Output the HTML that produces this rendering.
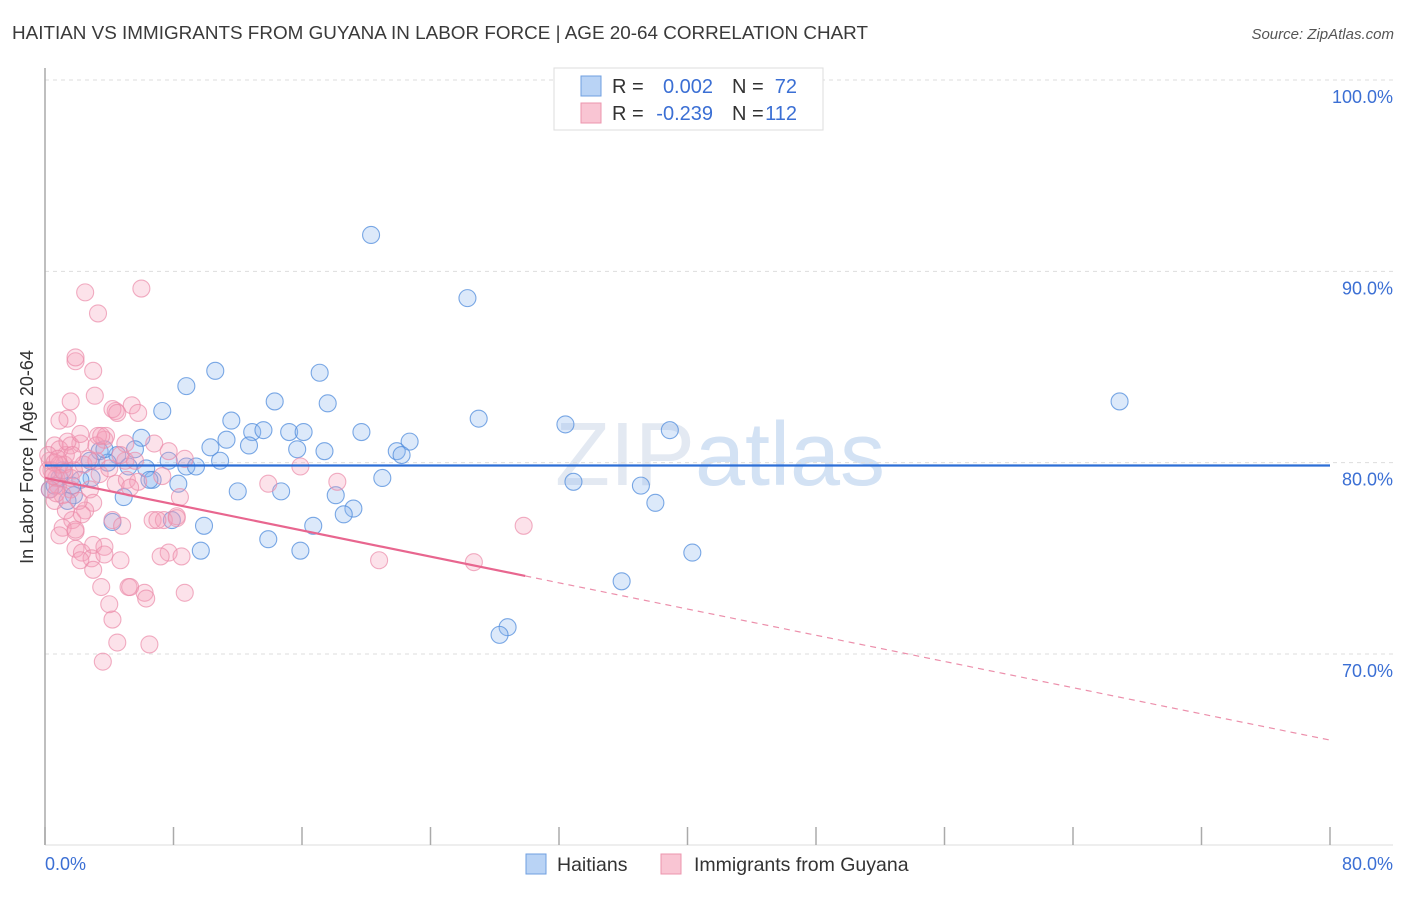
<!DOCTYPE html>
<html><head><meta charset="utf-8"><style>
body{margin:0;background:#fff;font-family:"Liberation Sans",sans-serif;}
svg text{font-family:"Liberation Sans",sans-serif;}
</style></head><body>
<svg id="chart" width="1406" height="892" viewBox="0 0 1406 892" xmlns="http://www.w3.org/2000/svg">
<text x="12" y="39" font-size="18.5" fill="#3a3a3a" textLength="856" lengthAdjust="spacingAndGlyphs">HAITIAN VS IMMIGRANTS FROM GUYANA IN LABOR FORCE | AGE 20-64 CORRELATION CHART</text>
<text x="1394" y="39" font-size="15" fill="#555" text-anchor="end" font-style="italic">Source: ZipAtlas.com</text>
<text x="720" y="485" font-size="90" fill="#e3e9f2" text-anchor="middle" font-family="Liberation Serif">ZIP<tspan fill="#d3e2f4" font-family="Liberation Sans">atlas</tspan></text>
<g id="grid"></g>
<g id="axes"></g>
<g id="pts"></g>
<g id="trend"></g>
<text transform="translate(33,457) rotate(-90)" font-size="18" fill="#333" text-anchor="middle">In Labor Force | Age 20-64</text>
<text x="45" y="870" font-size="18" fill="#3b6fd4">0.0%</text>
<text x="1393" y="870" font-size="18" fill="#3b6fd4" text-anchor="end">80.0%</text>
<g>
<rect x="554" y="68" width="269" height="62" fill="#fff" stroke="#ddd"/>
<rect x="581" y="76" width="20" height="20" fill="#b9d3f5" stroke="#6f9fe0"/>
<rect x="581" y="103" width="20" height="20" fill="#f9c5d3" stroke="#ec95ae"/>
<g font-size="20">
<text x="612" y="93" fill="#333">R =</text>
<text x="713" y="93" fill="#3b6fd4" text-anchor="end">0.002</text>
<text x="732" y="93" fill="#333">N =</text>
<text x="797" y="93" fill="#3b6fd4" text-anchor="end">72</text>
</g>
<g font-size="20">
<text x="612" y="120" fill="#333">R =</text>
<text x="713" y="120" fill="#3b6fd4" text-anchor="end">-0.239</text>
<text x="732" y="120" fill="#333">N =</text>
<text x="797" y="120" fill="#3b6fd4" text-anchor="end">112</text>
</g>
</g>
<g>
<rect x="526" y="854" width="20" height="20" fill="#b9d3f5" stroke="#6f9fe0"/>
<text x="557" y="871" font-size="19.5" fill="#333">Haitians</text>
<rect x="661" y="854" width="20" height="20" fill="#f9c5d3" stroke="#ec95ae"/>
<text x="694" y="871" font-size="19.5" fill="#333">Immigrants from Guyana</text>
</g>
</svg>
<script>
const yTicks=[100,90,80,70];
const yTickLabels=["100.0%","90.0%","80.0%","70.0%"];
const xTicks=[0,8,16,24,32,40,48,56,64,72,80];
const blueX=[20.3,26.3,66.9,10.6,17.1,8.8,14.3,17.6,7.3,27.0,11.6,32.4,38.9,6.0,11.3,12.9,13.6,15.2,16.1,19.7,22.7,10.3,12.7,15.7,17.4,21.9,22.2,3.4,5.6,4.5,10.9,7.7,8.8,9.4,6.3,5.2,3.9,0.9,2.9,6.7,8.3,21.0,32.9,37.1,12.0,14.7,18.1,4.9,1.8,1.4,38.0,19.2,18.6,4.2,7.9,16.7,9.9,13.9,9.7,15.9,40.3,35.9,28.8,28.3,0.3,0.6,2.2,2.8,3.7,6.5,1.7,1.1];
const blueY=[91.9,88.6,83.2,84.8,84.7,84.0,83.2,83.1,82.7,82.3,82.2,82.0,81.7,81.3,81.2,81.6,81.7,81.6,81.6,81.6,81.1,80.8,80.9,80.7,80.6,80.6,80.4,80.6,80.7,80.4,80.1,80.1,79.8,79.8,79.7,79.8,80.0,79.2,79.2,79.1,78.9,79.2,79.0,78.8,78.5,78.5,78.3,78.2,78.3,78.0,77.9,77.6,77.3,76.9,77.0,76.7,76.7,76.0,75.4,75.4,75.3,73.8,71.4,71.0,78.6,78.8,79.1,80.1,80.7,79.1,78.8,79.6];
const pinkX=[2.5,6.0,3.3,1.9,1.9,3.0,1.6,3.1,1.4,0.9,4.4,4.2,5.4,5.8,4.5,2.4,1.8,3.2,3.7,2.2,1.6,3.3,3.2,5.0,6.8,7.7,5.0,3.8,3.4,4.4,2.8,1.6,5.1,7.3,8.7,6.7,8.2,7.4,4.2,4.8,8.2,3.0,2.5,1.7,1.1,1.9,0.9,1.9,1.9,2.3,3.0,2.9,3.7,3.7,2.2,3.0,4.7,3.5,5.2,6.2,5.3,8.7,4.2,4.5,6.5,3.6,0.8,1.2,1.3,0.6,0.3,0.4,0.7,0.9,0.2,1.6,1.1,2.1,0.6,0.2,1.4,1.7,2.2,2.7,2.3,1.3,0.9,0.6,0.8,1.2,15.9,18.2,13.9,20.8,26.7,29.8,7.7,8.5,7.2,7.0,8.4,4.0,6.3,0.3,0.7,5.8,5.3,3.5,4.0,5.6,4.7,0.5];
const pinkY=[88.9,89.1,87.8,85.3,85.5,84.8,83.2,83.5,82.3,82.2,82.7,82.8,83.0,82.6,82.6,79.9,79.6,80.1,81.2,81.0,80.9,81.4,80.9,81.0,81.0,80.6,80.1,81.4,79.4,78.9,78.6,78.6,79.1,79.3,80.2,77.0,77.2,77.0,77.0,76.7,77.1,77.9,77.5,77.0,76.6,76.4,76.2,76.5,75.5,75.3,75.7,75.0,75.6,75.2,74.9,74.4,74.9,73.5,73.5,73.2,73.5,73.2,71.8,70.6,70.5,69.6,78.8,79.9,80.4,80.9,80.1,79.6,79.2,80.7,80.4,79.2,78.3,78.0,78.0,79.6,81.1,80.4,81.5,80.2,77.3,77.5,79.9,80.0,80.2,79.5,79.8,79.0,78.9,74.9,74.8,76.7,75.3,75.1,75.1,77.0,78.2,72.6,72.9,78.6,78.4,79.0,78.7,81.4,79.7,80.1,80.4,79.3];
const blueTrend=[79.85,79.85];
const pinkTrend=[79.2,65.5];
const pinkSolidEnd=29.9;

const X=v=>45+v*(1330-45)/80;
const Y=v=>80+(100-v)*(654-80)/30;
const NS="http://www.w3.org/2000/svg";
function mk(tag,attrs,parent){const e=document.createElementNS(NS,tag);for(const k in attrs)e.setAttribute(k,attrs[k]);parent.appendChild(e);return e;}
const grid=document.getElementById('grid'),axes=document.getElementById('axes'),pts=document.getElementById('pts'),trend=document.getElementById('trend');
yTicks.forEach((t,i)=>{
 const l=mk('line',{x1:45,x2:1393,y1:Y(t),y2:Y(t),stroke:'#ddd','stroke-dasharray':'4,4'},grid);
 
 
 const tx=mk('text',{x:1393,y:Y(t)+23,'font-size':18,fill:'#3b6fd4','text-anchor':'end'},grid);
 tx.textContent=yTickLabels[i];
 
 
});
const ya=mk('line',{x1:45,x2:45,y1:68,y2:845,stroke:'#aaa','stroke-width':1.5},axes);


const xa=mk('line',{x1:45,x2:1393,y1:845,y2:845,stroke:'#ddd'},axes);


xTicks.forEach(t=>{
 const l=mk('line',{x1:X(t),x2:X(t),y1:827,y2:845,stroke:'#aaa','stroke-width':1.5},axes);
 
 
});
blueX.forEach((v,i)=>{
 const c=mk('circle',{cx:X(v),cy:Y(blueY[i]),r:8.5,fill:'rgba(140,182,238,0.3)',stroke:'rgba(80,140,220,0.75)','stroke-width':1.1},pts);
 
 
});
pinkX.forEach((v,i)=>{
 const c=mk('circle',{cx:X(v),cy:Y(pinkY[i]),r:8.5,fill:'rgba(244,160,186,0.3)',stroke:'rgba(235,140,170,0.7)','stroke-width':1.1},pts);
 
 
});
const bt=mk('line',{x1:X(0),x2:X(80),y1:Y(blueTrend[0]),y2:Y(blueTrend[1]),stroke:'#2d6fd6','stroke-width':2.2},trend);


const pv=x=>pinkTrend[0]+(pinkTrend[1]-pinkTrend[0])*x/80;
const ps=mk('line',{x1:X(0),x2:X(pinkSolidEnd),y1:Y(pv(0)),y2:Y(pv(pinkSolidEnd)),stroke:'#e8668f','stroke-width':2.2},trend);


const pd=mk('line',{x1:X(pinkSolidEnd),x2:X(80),y1:Y(pv(pinkSolidEnd)),y2:Y(pv(80)),stroke:'#ec8fab','stroke-width':1.2,'stroke-dasharray':'6,5'},trend);


</script>
</body></html>
